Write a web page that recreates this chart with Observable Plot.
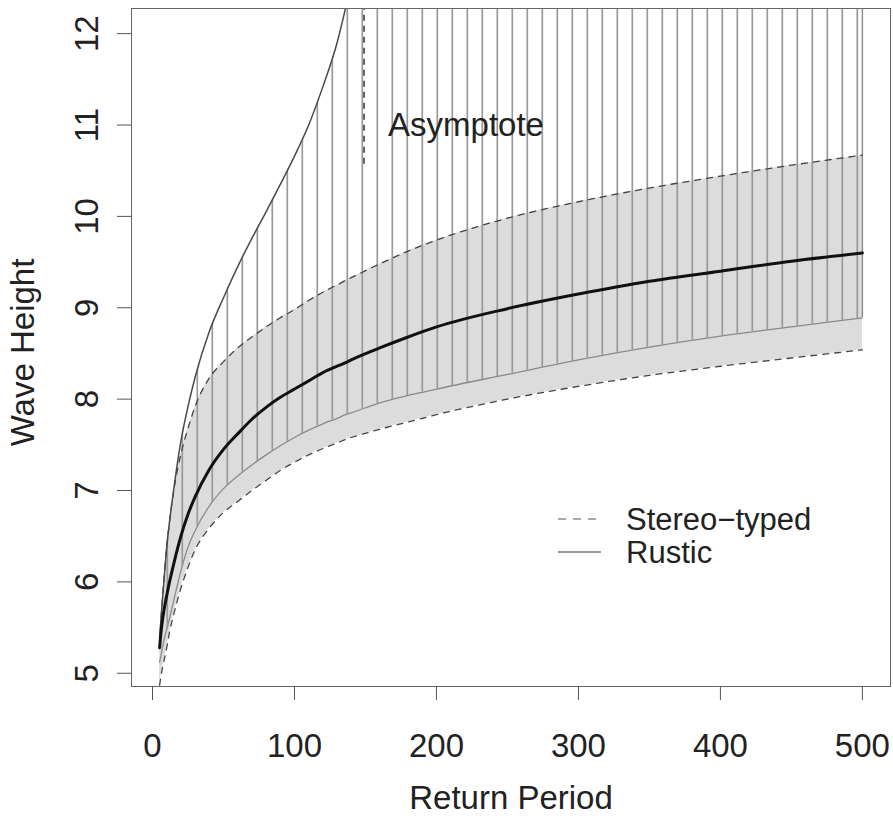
<!DOCTYPE html>
<html><head><meta charset="utf-8">
<script src="https://cdn.jsdelivr.net/npm/d3@7"></script>
<script src="https://cdn.jsdelivr.net/npm/@observablehq/plot@0.6"></script>
<style>
html,body{margin:0;padding:0;background:#fff;}
#chart{width:893px;height:816px;}
svg [aria-label="y-axis tick"], svg [aria-label="x-axis tick"]{stroke:#555;}
</style></head><body><div id="chart"></div>
<script>
// Return periods at which the curves were read
const returnPeriod = [5,6,7,8,10,12,15,20,25,30,40,50,60,70,80,90,100,110,120,130,136,140,160,180,200,250,300,350,400,450,500];
// Central (thick black) return level
const central = [5.28,5.45,5.58,5.68,5.85,6.0,6.2,6.5,6.74,6.93,7.23,7.45,7.62,7.78,7.91,8.02,8.11,8.20,8.29,8.36,8.40,8.43,8.56,8.68,8.79,8.99,9.15,9.29,9.40,9.51,9.60];
// Stereo-typed interval (dashed)
const stereoLower = [4.87,4.97,5.06,5.13,5.28,5.45,5.65,5.93,6.16,6.35,6.59,6.76,6.88,7.00,7.11,7.22,7.31,7.39,7.46,7.52,7.56,7.58,7.67,7.75,7.83,8.00,8.14,8.26,8.36,8.45,8.54];
const stereoUpper = [5.35,5.6,5.82,6.02,6.38,6.66,7.0,7.4,7.68,7.92,8.23,8.41,8.56,8.68,8.79,8.89,8.98,9.08,9.17,9.25,9.30,9.33,9.48,9.62,9.74,9.98,10.16,10.31,10.44,10.56,10.67];
// Rustic interval (solid, hatched); upper bound is unbounded past the asymptote
const rusticLower = [5.12,5.2,5.28,5.36,5.48,5.6,5.8,6.12,6.38,6.56,6.83,7.02,7.16,7.28,7.39,7.49,7.58,7.66,7.73,7.79,7.83,7.85,7.96,8.04,8.11,8.27,8.43,8.57,8.69,8.79,8.89];
const rusticUpper = [5.38,5.6,5.8,6.0,6.38,6.66,7.02,7.54,7.92,8.24,8.74,9.11,9.45,9.76,10.05,10.35,10.66,11.0,11.42,11.9,12.28,null,null,null,null,null,null,null,null,null,null];
// Asymptote annotation
const asymptoteX = [149];
const asymptoteFrom = [10.57];
const asymptoteLabel = ["Asymptote"];
const asymptoteLabelY = [11];
// Axes
const xLimits = [-14.8, 519.8];
const yLimits = [4.855, 12.275];
const xTicks = [0,100,200,300,400,500];
const yTicks = [5,6,7,8,9,10,11,12];
const xTitle = "Return Period";
const yTitle = "Wave Height";
const legendLabels = ["Stereo\u2212typed", "Rustic"];

const rows = returnPeriod.map((x, i) => ({
  x, c: central[i], sl: stereoLower[i], su: stereoUpper[i], rl: rusticLower[i], ru: rusticUpper[i]
}));
const asym = asymptoteX.map((x, i) => ({x, from: asymptoteFrom[i], label: asymptoteLabel[i], ly: asymptoteLabelY[i]}));
const curve = "monotone-x";
const FONT = '"Liberation Sans", Arial, Helvetica, sans-serif';
const FS = 33;

const plot = Plot.plot({
  width: 893, height: 816,
  marginLeft: 131, marginRight: 3, marginTop: 8, marginBottom: 130,
  style: {fontFamily: FONT, fontSize: FS + "px", background: "#fff", color: "#222", overflow: "visible"},
  x: {domain: xLimits},
  y: {domain: yLimits},
  marks: [
    Plot.areaY(rows, {x: "x", y1: "sl", y2: "su", fill: "#dcdcdc", curve, clip: true}),
    Plot.areaY(rows, {x: "x", y1: "rl", y2: d => d.ru ?? yLimits[1], fill: "url(#hatch)", curve, clip: true}),
    Plot.line(rows, {x: "x", y: "rl", stroke: "#8a8a8a", strokeWidth: 1.3, curve}),
    Plot.ruleX(rows.slice(-1), {x: "x", y1: "rl", y2: () => yLimits[1], stroke: "#8a8a8a", strokeWidth: 1.4}),
    Plot.line(rows, {x: "x", y: "sl", stroke: "#444", strokeWidth: 1.3, strokeDasharray: "6,6", curve}),
    Plot.line(rows, {x: "x", y: "su", stroke: "#444", strokeWidth: 1.3, strokeDasharray: "6,6", curve}),
    Plot.line(rows.filter(d => d.ru != null), {x: "x", y: "ru", stroke: "#4a4a4a", strokeWidth: 1.5, curve, clip: true}),
    Plot.line(rows, {x: "x", y: "c", stroke: "#111", strokeWidth: 3, curve}),
    Plot.ruleX(asym, {x: "x", y1: "from", y2: () => yLimits[1], stroke: "#333", strokeWidth: 1.5, strokeDasharray: "6,5"}),
    Plot.text(asym, {x: "x", y: "ly", text: "label", dx: 24, textAnchor: "start", lineAnchor: "middle", fontSize: FS, fill: "#222"}),
    Plot.frame({stroke: "#666"}),
    Plot.axisX(xTicks, {tickSize: 14, tickPadding: 33, fontSize: FS, label: null, color: "#222", tickFormat: d => String(d)}),
    Plot.axisY(yTicks, {tickSize: 14, tickPadding: 20, tickRotate: -90, fontSize: FS, label: null, color: "#222", tickFormat: d => String(d)}),
    Plot.text([xTitle], {text: d => d, frameAnchor: "bottom", dy: 122, lineAnchor: "bottom", textAnchor: "middle", fontSize: FS, fill: "#222"}),
    Plot.text([yTitle], {text: d => d, frameAnchor: "left", rotate: -90, dx: -98, dy: 5, lineAnchor: "bottom", textAnchor: "middle", fontSize: FS, fill: "#222"})
  ]
});

const svg = d3.select(plot);
const defs = svg.insert("defs", ":first-child");
defs.append("pattern").attr("id", "hatch").attr("patternUnits", "userSpaceOnUse")
  .attr("x", 0).attr("y", 0).attr("width", 15).attr("height", 20)
  .append("line").attr("x1", 2.3).attr("x2", 2.3).attr("y1", 0).attr("y2", 20)
  .attr("stroke", "#999").attr("stroke-width", 1.7);

// Legend
const lg = svg.append("g").attr("aria-label", "legend").attr("text-anchor", "start");
const legendStyles = [{dash: "8,7", color: "#8a8a8a"}, {dash: null, color: "#777"}];
legendLabels.forEach((lab, i) => {
  const cy = 519 + i * 33;
  const ln = lg.append("line").attr("x1", 558).attr("x2", 601).attr("y1", cy).attr("y2", cy)
    .attr("stroke", legendStyles[i].color).attr("stroke-width", 1.4);
  if (legendStyles[i].dash) ln.attr("stroke-dasharray", legendStyles[i].dash);
  lg.append("text").attr("x", 626).attr("y", cy).attr("dy", "0.36em").attr("text-anchor", "start")
    .attr("font-family", FONT).attr("font-size", 31).attr("fill", "#222").text(lab);
});

document.getElementById("chart").appendChild(plot);
</script>
</body></html>
